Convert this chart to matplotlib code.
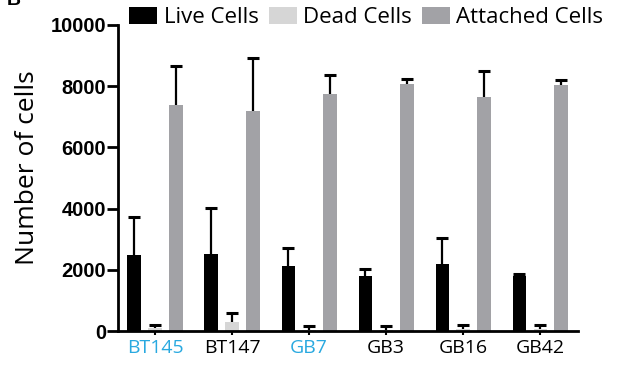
import matplotlib
matplotlib.use("Agg")
import matplotlib.pyplot as plt
import numpy as np

plt.rcParams['font.family'] = ['Open Sans', 'DejaVu Sans']

lines = ["BT145", "BT147", "GB7", "GB3", "GB16", "GB42"]
label_colors = ["#29a9e0", "black", "#29a9e0", "black", "black", "black"]

live = [2480, 2520, 2120, 1790, 2200, 1790]
live_err = [1230, 1500, 600, 230, 830, 80]
dead = [100, 300, 50, 50, 80, 80]
dead_err = [100, 280, 100, 100, 120, 120]
attached = [7380, 7180, 7750, 8080, 7650, 8050]
attached_err = [1270, 1750, 610, 170, 850, 150]

series = [
    ("Live Cells", live, live_err, "black"),
    ("Dead Cells", dead, dead_err, "#d6d6d6"),
    ("Attached Cells", attached, attached_err, "#a2a2a6"),
]

fig = plt.figure(figsize=(6.43, 3.67), dpi=100)
ax = fig.add_axes([0.1835, 0.098, 0.7155, 0.834])

x = np.arange(len(lines))
w = 0.175
off = 0.27
for i, (name, vals, errs, col) in enumerate(series):
    pos = x + (i - 1) * off
    ax.bar(pos, vals, w, color=col, label=name, zorder=2)
    _, caps, _ = ax.errorbar(pos, vals, yerr=[np.zeros(len(vals)), errs], fmt='none',
                             ecolor='black', elinewidth=1.6, capsize=4, capthick=2.2,
                             zorder=3)
    caps[0].set_visible(False)  # upper error only

ax.set_xlim(-0.48, 5.49)
ax.set_ylim(0, 10000)
ax.set_yticks([0, 2000, 4000, 6000, 8000, 10000])
for t in ax.get_yticklabels():
    t.set_fontweight('bold')
    t.set_fontfamily(['Liberation Sans', 'DejaVu Sans'])
ax.tick_params(axis='y', labelsize=14.5, width=2, length=8, pad=0.5)
ax.set_xticks(x)
ax.set_xticklabels(lines, fontsize=14)
for t, c in zip(ax.get_xticklabels(), label_colors):
    t.set_color(c)
ax.tick_params(axis='x', width=1.5, length=3, pad=3)

for s in ['top', 'right']:
    ax.spines[s].set_visible(False)
for s in ['left', 'bottom']:
    ax.spines[s].set_linewidth(2)

ax.set_ylabel("Number of cells", fontsize=19)
ax.yaxis.set_label_coords(-0.17, 0.535)

ax.legend(loc='center left', bbox_to_anchor=(0.025, 1.025), ncol=3, frameon=False,
          fontsize=16, handlelength=1.25, handleheight=0.8, handletextpad=0.3,
          columnspacing=0.45, borderaxespad=0, borderpad=0)

fig.text(0.011, 0.998, "B", fontsize=14, fontweight='bold', va='center',
         family=['Liberation Sans', 'DejaVu Sans'])

fig.savefig("out.png", dpi=100)
